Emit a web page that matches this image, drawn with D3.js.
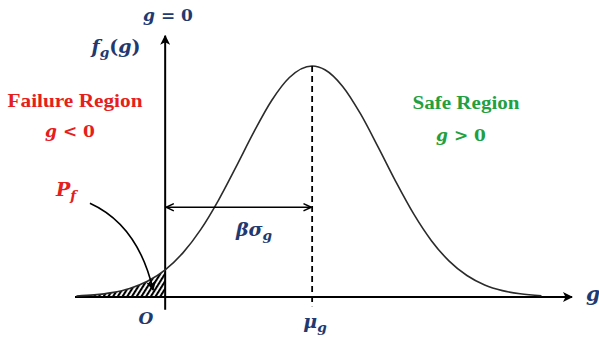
<!DOCTYPE html>
<html>
<head>
<meta charset="utf-8">
<script src="https://cdn.jsdelivr.net/npm/d3@7"></script>
<style>
  html, body { margin: 0; padding: 0; background: #fff; }
  svg { display: block; }
</style>
</head>
<body>
<svg id="chart" width="599" height="340"></svg>
<script>
// Limit-state function g: density f_g(g) sampled along g (units of sigma_g)
const gValues = [-1.25, -1.0, -0.75, -0.5, -0.25, 0, 0.25, 0.5, 0.75, 1.0, 1.25, 1.5, 1.75, 2.07,
                 2.25, 2.5, 2.75, 3.0, 3.25, 3.5, 3.75, 4.0, 4.25, 4.5, 4.75, 5.0, 5.3];
const density = [0.0016, 0.0036, 0.0075, 0.0147, 0.0271, 0.0468, 0.0762, 0.1163, 0.1670, 0.2251,
                 0.2851, 0.3393, 0.3790, 0.3989, 0.3925, 0.3637, 0.3166, 0.2589, 0.1989, 0.1435,
                 0.0973, 0.0620, 0.0371, 0.0208, 0.0110, 0.0055, 0.0022];
const meanG = 2.07;          // mu_g
const failureLimit = 0;      // g = 0
const betaArrowLevel = 0.155;
// Curved pointer from the P_f label to the shaded tail: [g, f] start, control, end
const pfPointer = [[-1.06, 0.162], [-0.38, 0.124], [-0.17, 0.012]];

const svg = d3.select("#chart");
const navy = "#1f3a70", red = "#e5201c", green = "#22a040";
const textFont = "'Liberation Serif', 'Times New Roman', serif";
const mathFont = "'DejaVu Serif', 'Liberation Serif', serif";

const x = d3.scaleLinear().domain([-1.27, 5.73]).range([75, 572]);
const y = d3.scaleLinear().domain([0, 0.3989]).range([297, 66]);

const pts = gValues.map((g, i) => ({ g, f: density[i] }));

// Definitions: hatch pattern and arrowheads
const defs = svg.append("defs");
const pat = defs.append("pattern").attr("id", "hatch").attr("patternUnits", "userSpaceOnUse")
  .attr("width", 4).attr("height", 8).attr("patternTransform", "rotate(32)");
pat.append("line").attr("x1", 1).attr("y1", -1).attr("x2", 1).attr("y2", 9)
  .attr("stroke", "#000").attr("stroke-width", 2.2);

defs.append("marker").attr("id", "solidHead").attr("viewBox", "0 0 10 10")
  .attr("refX", 9).attr("refY", 5).attr("markerWidth", 10).attr("markerHeight", 10)
  .attr("markerUnits", "userSpaceOnUse").attr("orient", "auto")
  .append("path").attr("d", "M0,0 L10,5 L0,10 L2.5,5 Z").attr("fill", "#000");

defs.append("marker").attr("id", "openHead").attr("viewBox", "0 0 10 10")
  .attr("refX", 9.5).attr("refY", 5).attr("markerWidth", 9).attr("markerHeight", 9)
  .attr("markerUnits", "userSpaceOnUse").attr("orient", "auto-start-reverse")
  .append("path").attr("d", "M1,1 L9.5,5 L1,9").attr("fill", "none").attr("stroke", "#000").attr("stroke-width", 1.6);

// Shaded failure region (g < 0)
const tail = pts.filter(d => d.g <= failureLimit);
svg.append("path")
  .datum(tail)
  .attr("d", d3.area().x(d => x(d.g)).y0(y(0)).y1(d => y(d.f)).curve(d3.curveMonotoneX))
  .attr("fill", "url(#hatch)");

// Axes
svg.append("line").attr("x1", x(-1.27)).attr("x2", x(5.73)).attr("y1", y(0)).attr("y2", y(0))
  .attr("stroke", "#000").attr("stroke-width", 2).attr("marker-end", "url(#solidHead)");
svg.append("line").attr("x1", x(failureLimit)).attr("x2", x(failureLimit))
  .attr("y1", y(-0.022)).attr("y2", y(0.451))
  .attr("stroke", "#000").attr("stroke-width", 2).attr("marker-end", "url(#solidHead)");

// Density curve
svg.append("path")
  .datum(pts)
  .attr("d", d3.line().x(d => x(d.g)).y(d => y(d.f)).curve(d3.curveMonotoneX))
  .attr("fill", "none").attr("stroke", "#2b2b2b").attr("stroke-width", 1.6);

// Mean line
svg.append("line").attr("x1", x(meanG)).attr("x2", x(meanG))
  .attr("y1", y(0.3989)).attr("y2", y(-0.016))
  .attr("stroke", "#000").attr("stroke-width", 1.8).attr("stroke-dasharray", "6,4");

// beta * sigma distance arrow
svg.append("line").attr("x1", x(failureLimit) + 1).attr("x2", x(meanG) - 1)
  .attr("y1", y(betaArrowLevel)).attr("y2", y(betaArrowLevel))
  .attr("stroke", "#000").attr("stroke-width", 1.6)
  .attr("marker-start", "url(#openHead)").attr("marker-end", "url(#openHead)");

// P_f pointer
const [p0, pc, p1] = pfPointer;
const pp = d3.path();
pp.moveTo(x(p0[0]), y(p0[1]));
pp.quadraticCurveTo(x(pc[0]), y(pc[1]), x(p1[0]), y(p1[1]));
svg.append("path").attr("d", pp.toString()).attr("fill", "none")
  .attr("stroke", "#000").attr("stroke-width", 1.6).attr("marker-end", "url(#solidHead)");

// Labels
function mathLabel(px, py, parts, color, size, anchor) {
  const t = svg.append("text").attr("x", px).attr("y", py).attr("fill", color)
    .attr("font-family", mathFont).attr("font-weight", "bold")
    .attr("font-size", size).attr("text-anchor", anchor || "middle");
  parts.forEach(p => {
    const s = t.append("tspan").text(p.t);
    if (p.it) s.attr("font-style", "italic");
    if (p.sub) s.attr("baseline-shift", "-30%").attr("font-size", size * 0.72);
    if (p.dx) s.attr("dx", p.dx);
  });
  return t;
}
function wordLabel(px, py, str, color, size, width) {
  return svg.append("text").attr("x", px).attr("y", py).attr("text-anchor", "middle")
    .attr("font-family", textFont).attr("font-weight", "bold")
    .attr("fill", color).attr("font-size", size)
    .attr("textLength", width).attr("lengthAdjust", "spacingAndGlyphs").text(str);
}

mathLabel(168, 21, [{ t: "g", it: true }, { t: " = 0" }], navy, 17);
mathLabel(116, 53, [{ t: "f", it: true }, { t: "g", it: true, sub: true }, { t: "(" }, { t: "g", it: true }, { t: ")" }], navy, 19);

wordLabel(75, 107, "Failure Region", red, 19, 135);
mathLabel(70, 137, [{ t: "g", it: true }, { t: " < 0" }], red, 17);

wordLabel(466, 109, "Safe Region", green, 18.5, 107);
mathLabel(461, 141, [{ t: "g", it: true }, { t: " > 0" }], green, 17);

mathLabel(66, 196, [{ t: "P", it: true }, { t: "f", it: true, sub: true }], red, 19);
mathLabel(254, 236, [{ t: "βσ", it: true }, { t: "g", it: true, sub: true }], navy, 19);
mathLabel(146, 324, [{ t: "O", it: true }], navy, 17);
mathLabel(315, 328, [{ t: "μ", it: true }, { t: "g", it: true, sub: true }], navy, 19);
mathLabel(586, 301, [{ t: "g", it: true }], navy, 20, "start");
</script>
</body>
</html>
